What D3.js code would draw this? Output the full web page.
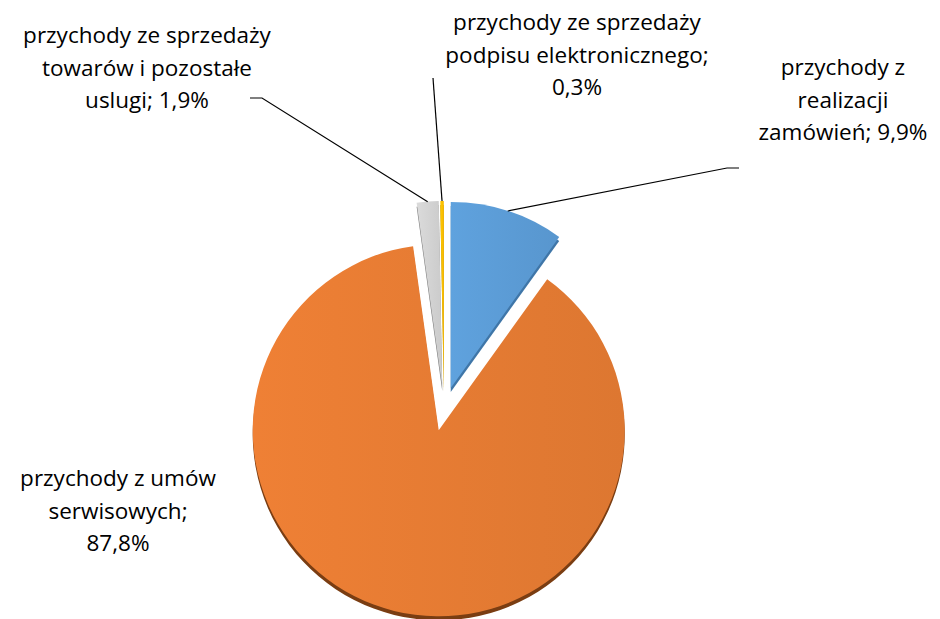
<!DOCTYPE html>
<html>
<head>
<meta charset="utf-8">
<script src="https://cdn.jsdelivr.net/npm/d3@7"></script>
<style>
  body { margin: 0; background: #fff; }
  text { font-family: "Open Sans", "Lato", sans-serif; fill: #000; }
</style>
</head>
<body>
<div id="chart"></div>
<script>
// data
var categories = ["przychody z realizacji zamówień", "przychody z umów serwisowych",
  "przychody ze sprzedaży towarów i pozostałe uslugi", "przychody ze sprzedaży podpisu elektronicznego"];
var values = [9.9, 87.8, 1.9, 0.3];
var labelLines = [
  ["przychody z", "realizacji", "zamówień; 9,9%"],
  ["przychody z umów", "serwisowych;", "87,8%"],
  ["przychody ze sprzedaży", "towarów i pozostałe", "uslugi; 1,9%"],
  ["przychody ze sprzedaży", "podpisu elektronicznego;", "0,3%"]
];
var colors = ["#5B9BD5", "#E57B33", "#D2D2D2", "#FFC000"];
var darkColors = ["#3F76A8", "#7A3D12", "#7d7d7d", "#B88A00"];

var w = 940, h = 619;
var cx = 444, cy = 409, r = 186, explode = 22, depth = 4;

// label layout: center x, first line y, leader points from the label side
var labelPos = [
  {x: 843, y: 75, lead: [[739, 168], [727, 168]]},
  {x: 118, y: 486, lead: null},
  {x: 147, y: 43, lead: [[250, 98], [262, 98]]},
  {x: 577, y: 30, lead: [[433, 78]]}
];

var svg = d3.select("#chart").append("svg")
  .attr("width", w)
  .attr("height", h);

var defs = svg.append("defs");
colors.forEach(function(c, i) {
  var g = defs.append("linearGradient")
    .attr("id", "grad" + i)
    .attr("x1", "0%").attr("y1", "0%")
    .attr("x2", "100%").attr("y2", "0%");
  g.append("stop").attr("offset", "0%").attr("stop-color", d3.color(c).brighter(0.12));
  g.append("stop").attr("offset", "100%").attr("stop-color", d3.color(c).darker(0.1));
});

var pie = d3.pie().sort(null).value(d => d);
var arcs = pie(values);
var arc = d3.arc().innerRadius(0).outerRadius(r);

function offset(d) {
  var a = (d.startAngle + d.endAngle) / 2;
  return [cx + explode * Math.sin(a), cy - explode * Math.cos(a)];
}

// side (depth) of each slice
svg.append("g").selectAll("path")
  .data(arcs)
  .enter().append("path")
  .attr("d", arc)
  .attr("transform", d => { var o = offset(d); return "translate(" + o[0] + "," + (o[1] + depth) + ")"; })
  .attr("fill", (d, i) => darkColors[i]);

// top faces
svg.append("g").selectAll("path")
  .data(arcs)
  .enter().append("path")
  .attr("d", arc)
  .attr("transform", d => { var o = offset(d); return "translate(" + o[0] + "," + o[1] + ")"; })
  .attr("fill", (d, i) => "url(#grad" + i + ")");

// leader lines
arcs.forEach(function(d, i) {
  var lp = labelPos[i];
  if (!lp.lead) return;
  var o = offset(d);
  var a = (d.startAngle + d.endAngle) / 2;
  var end = [o[0] + r * Math.sin(a), o[1] - r * Math.cos(a)];
  var pts = lp.lead.concat([end]);
  svg.append("path")
    .attr("d", d3.line()(pts))
    .attr("fill", "none")
    .attr("stroke", "#000")
    .attr("stroke-width", 1.2);
});

// labels
labelLines.forEach(function(lines, i) {
  var lp = labelPos[i];
  var t = svg.append("text")
    .attr("text-anchor", "middle")
    .attr("font-size", 22.5);
  lines.forEach(function(s, j) {
    t.append("tspan")
      .attr("x", lp.x)
      .attr("y", lp.y + j * 32.5)
      .text(s);
  });
});
</script>
</body>
</html>
